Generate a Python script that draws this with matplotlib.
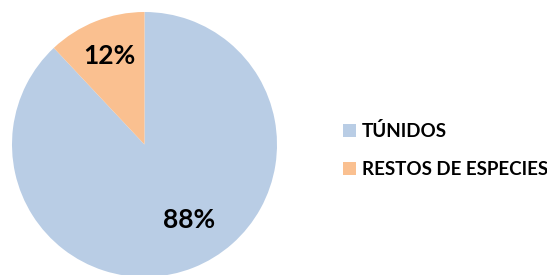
import matplotlib
matplotlib.use("Agg")
import matplotlib.pyplot as plt

plt.rcParams['font.family'] = ['Lato', 'DejaVu Sans']

# datos del gráfico
categorias = ['TÚNIDOS', 'RESTOS DE ESPECIES']
valores = [88, 12]
colores = ['#B9CDE5', '#FAC090']

fig = plt.figure(figsize=(5.47, 2.75), dpi=100)
W, H = 547, 275
cx, cy, r = 144.5, 144.5, 132.5
ax = fig.add_axes([(cx - r) / W, 1 - (cy + r) / H, 2 * r / W, 2 * r / H])

wedges, texts, autotexts = ax.pie(
    valores, colors=colores, startangle=90, counterclock=False,
    autopct='%1.0f%%', pctdistance=0.72,
    wedgeprops=dict(linewidth=0),
    textprops=dict(fontsize=19, fontweight='bold', color='black'))
# la etiqueta grande va un poco más hacia la derecha
autotexts[0].set_position((0.34, -0.57))
ax.set_xlim(-1, 1)
ax.set_ylim(-1, 1)
ax.set_aspect('equal')

fig.legend(wedges, categorias, loc='center left', bbox_to_anchor=(326 / W, 1 - 150 / H),
           frameon=False, handlelength=0.7, handleheight=0.7, handletextpad=0.3,
           labelspacing=1.1, prop=dict(size=13.5, weight='bold'))

fig.savefig('out.png', dpi=100)
